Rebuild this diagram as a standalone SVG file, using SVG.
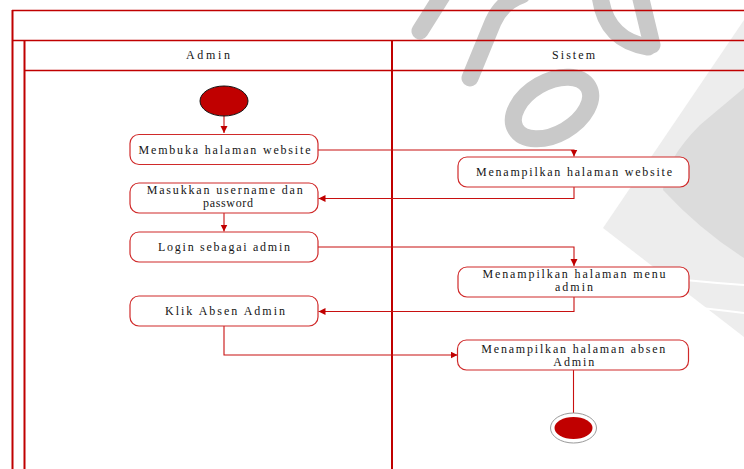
<svg xmlns="http://www.w3.org/2000/svg" width="744" height="469" viewBox="0 0 744 469">
  <style>
    .frame { stroke: #c00000; fill: none; }
    .box { fill: #ffffff; stroke: #d02a2a; stroke-width: 1.2; }
    .lbl { font-family: "Liberation Serif", "Times New Roman", serif; font-size: 12px; fill: #151515; text-anchor: middle; }
    .conn { stroke: #c81010; stroke-width: 1.1; fill: none; }
    .wm { stroke: #c9c9c9; stroke-width: 17; fill: none; stroke-linecap: round; stroke-linejoin: round; }
  </style>
  <defs>
    <marker id="arrow" markerUnits="userSpaceOnUse" markerWidth="8" markerHeight="8" refX="7" refY="3.5" orient="auto">
      <path d="M0,0 L7,3.5 L0,7 Z" fill="#c00000"/>
    </marker>
  </defs>

  <rect width="744" height="469" fill="#ffffff"/>

  <!-- background logo -->
  <g id="watermark">
    <polygon points="744,20 603,228 744,337" fill="#ededed"/>
    <path d="M744,88 L700,125 Q665,160 663,190 Q700,230 744,258 Z" fill="#dcdcdc"/>
    <path d="M685,280 Q715,283 744,285" stroke="#ffffff" stroke-width="2" fill="none"/>
    <path d="M692,307 Q720,310 744,313" stroke="#ffffff" stroke-width="2" fill="none"/>
    <path class="wm" d="M420,31 L442,-4"/>
    <path class="wm" d="M470,78 L493,22 Q502,2 522,-5"/>
    <ellipse class="wm" cx="552" cy="108" rx="42" ry="26" transform="rotate(-30 552 108)"/>
    <path class="wm" d="M600,-5 Q605,40 648,47"/>
    <path class="wm" d="M640,-5 L652,45"/>
  </g>

  <!-- swimlane frame -->
  <g id="frame">
    <line class="frame" x1="12" y1="10.5" x2="744" y2="10.5" stroke-width="1.3"/>
    <line class="frame" x1="12" y1="40.5" x2="744" y2="40.5" stroke-width="1.3"/>
    <line class="frame" x1="24" y1="70.5" x2="744" y2="70.5" stroke-width="1.3"/>
    <line class="frame" x1="12.5" y1="10" x2="12.5" y2="469" stroke-width="2"/>
    <line class="frame" x1="24.5" y1="40" x2="24.5" y2="469" stroke-width="2"/>
    <line class="frame" x1="392" y1="40" x2="392" y2="469" stroke-width="2"/>
    <text class="lbl" x="208" y="59" textLength="44" lengthAdjust="spacing">Admin</text>
    <text class="lbl" x="573.5" y="59" textLength="43" lengthAdjust="spacing">Sistem</text>
  </g>

  <!-- connectors -->
  <g id="connectors">
    <path class="conn" d="M224,116 V133" marker-end="url(#arrow)"/>
    <path class="conn" d="M318,150 H574 V156.5" marker-end="url(#arrow)"/>
    <path class="conn" d="M574,187 V198.5 H318.5" marker-end="url(#arrow)"/>
    <path class="conn" d="M224,213 V231.5" marker-end="url(#arrow)"/>
    <path class="conn" d="M318,247 H574 V266" marker-end="url(#arrow)"/>
    <path class="conn" d="M574,297 V311.5 H318.5" marker-end="url(#arrow)"/>
    <path class="conn" d="M224,326 V355 H457.5" marker-end="url(#arrow)"/>
    <path class="conn" d="M573.5,370 V413"/>
  </g>

  <!-- start -->
  <g id="start">
    <ellipse cx="224" cy="101" rx="24" ry="15" fill="#c00000" stroke="#111111" stroke-width="1"/>
  </g>

  <g id="membuka-halaman">
    <rect class="box" x="130" y="134.5" width="188" height="30" rx="9"/>
    <text class="lbl" x="224.5" y="153.5" textLength="172" lengthAdjust="spacing">Membuka halaman website</text>
  </g>

  <g id="masukkan-username">
    <rect class="box" x="130" y="183" width="188" height="30" rx="9"/>
    <text class="lbl" x="224.7" y="194" textLength="156" lengthAdjust="spacing">Masukkan username dan</text>
    <text class="lbl" x="228" y="207" textLength="50" lengthAdjust="spacing">password</text>
  </g>

  <g id="login-admin">
    <rect class="box" x="130" y="232" width="188" height="30" rx="9"/>
    <text class="lbl" x="224" y="251" textLength="132" lengthAdjust="spacing">Login sebagai admin</text>
  </g>

  <g id="klik-absen">
    <rect class="box" x="130" y="296" width="188" height="30" rx="9"/>
    <text class="lbl" x="225" y="315" textLength="120" lengthAdjust="spacing">Klik Absen Admin</text>
  </g>

  <g id="tampil-website">
    <rect class="box" x="458" y="157" width="231" height="30" rx="9"/>
    <text class="lbl" x="574" y="175.5" textLength="196" lengthAdjust="spacing">Menampilkan halaman website</text>
  </g>

  <g id="tampil-menu">
    <rect class="box" x="458" y="267" width="231" height="30" rx="9"/>
    <text class="lbl" x="574" y="278.3" textLength="183" lengthAdjust="spacing">Menampilkan halaman menu</text>
    <text class="lbl" x="574" y="291.3" textLength="38" lengthAdjust="spacing">admin</text>
  </g>

  <g id="tampil-absen">
    <rect class="box" x="457.5" y="340" width="231" height="30" rx="9"/>
    <text class="lbl" x="573.3" y="352.5" textLength="184" lengthAdjust="spacing">Menampilkan halaman absen</text>
    <text class="lbl" x="573.8" y="365.5" textLength="41" lengthAdjust="spacing">Admin</text>
  </g>

  <!-- end -->
  <g id="end">
    <ellipse cx="573.5" cy="428" rx="23" ry="15" fill="#ffffff" stroke="#9a9a9a" stroke-width="1"/>
    <ellipse cx="573.5" cy="428" rx="19" ry="11" fill="#c00000"/>
  </g>
</svg>
